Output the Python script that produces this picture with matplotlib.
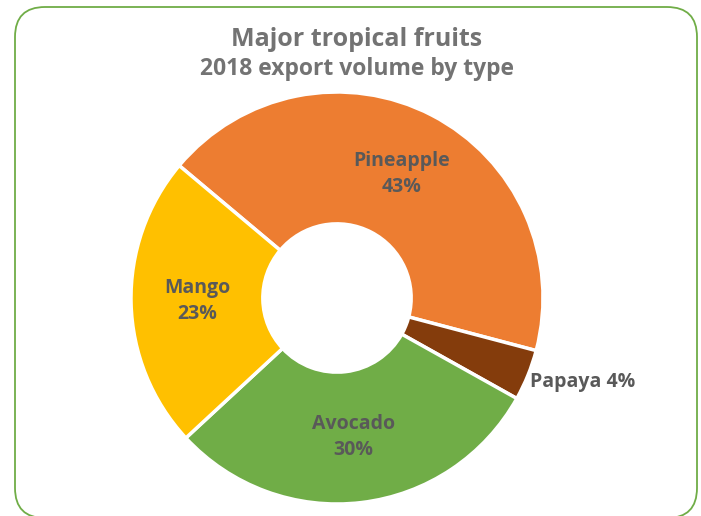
import matplotlib.pyplot as plt
from matplotlib.patches import FancyBboxPatch
import numpy as np

fruits = ['Pineapple', 'Papaya', 'Avocado', 'Mango']
shares = [43, 4, 30, 23]
colors = ['#ED7D31', '#843C0C', '#70AD47', '#FFC000']

W, H = 701, 516
fig = plt.figure(figsize=(W / 100, H / 100), dpi=100)
plt.rcParams['font.family'] = ['Open Sans', 'DejaVu Sans']

# background axes in pixel units (y up) for the rounded green frame
bg = fig.add_axes([0, 0, 1, 1])
bg.set_xlim(0, W)
bg.set_ylim(0, H)
bg.axis('off')
bg.add_patch(FancyBboxPatch((15, H - 518), 682, 511,
                            boxstyle='round,pad=0,rounding_size=30',
                            fill=False, edgecolor='#70AD47', linewidth=1.3,
                            clip_on=False))

bg.text(357, H - 40, 'Major tropical fruits', ha='center', va='center',
        fontsize=18, fontweight='bold', color='#737373')
bg.text(357, H - 69, '2018 export volume by type', ha='center', va='center',
        fontsize=16.5, fontweight='bold', color='#737373')

# donut centred at (337, 298) px with radius 206 px
cx, cy, R = 337, 298, 206
ax = fig.add_axes([(cx - R) / W, (H - cy - R) / H, 2 * R / W, 2 * R / H])
wedges, _ = ax.pie(shares, colors=colors, startangle=140, counterclock=False,
                   radius=1, wedgeprops=dict(width=0.64, edgecolor='white', linewidth=2.5))
ax.set_xlim(-1, 1)
ax.set_ylim(-1, 1)
ax.set_aspect('equal')
ax.axis('off')

for w, name, s in zip(wedges, fruits, shares):
    mid = np.deg2rad((w.theta1 + w.theta2) / 2)
    if s < 10:
        ax.text(1.01 * np.cos(mid), 1.01 * np.sin(mid) - 0.03, f'{name} {s}%',
                ha='left', va='center', fontsize=14, fontweight='bold', color='#595959')
    else:
        ax.text(0.68 * np.cos(mid), 0.68 * np.sin(mid), f'{name}\n{s}%',
                ha='center', va='center', fontsize=14, fontweight='bold',
                color='#595959', linespacing=1.4)

fig.savefig('out.png', dpi=100)
